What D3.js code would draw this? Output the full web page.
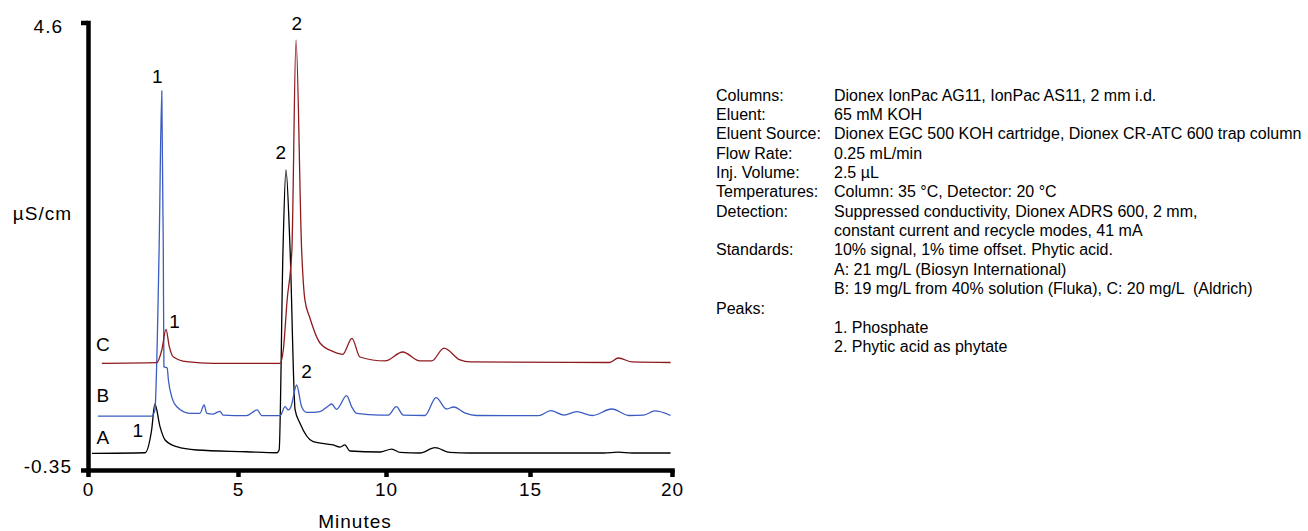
<!DOCTYPE html>
<html>
<head>
<meta charset="utf-8">
<script src="https://d3js.org/d3.v7.min.js"></script>
<style>
  body { margin: 0; background: #fff; }
  svg text { font-family: "Liberation Sans", Arial, Helvetica, sans-serif; fill: #000; }
  .big { font-size: 19px; letter-spacing: 1px; }
  .cond { font-size: 16px; white-space: pre; }
  .axis path, .axis line { stroke: #000; stroke-width: 4.5px; }
  .axis .domain { stroke-linecap: square; }
</style>
</head>
<body>
<svg id="chart" width="1308" height="531"></svg>
<script>
// axis ticks
const minuteTicks = [0, 5, 10, 15, 20];
const signalTicks = [-0.35, 4.6];

// chromatograms, [minutes, µS/cm]
const traceA = [[0.13,-0.165],[1.9,-0.159],[2.12,0.092],[2.23,0.38],[2.4,0.129],[2.57,-0.018],[2.96,-0.092],
  [3.62,-0.129],[5.29,-0.148],[6.31,-0.159],[6.39,-0.129],[6.52,2.084],[6.62,2.969],[6.76,2.084],[6.93,0.314],
  [7.09,0.17],[7.54,-0.037],[8.21,-0.073],[8.45,-0.096],[8.61,-0.073],[8.78,-0.14],[9.8,-0.151],[10.2,-0.118],
  [10.49,-0.156],[11.18,-0.162],[11.7,-0.103],[12.22,-0.156],[12.92,-0.162],[17.6,-0.162],[18.1,-0.152],
  [18.6,-0.162],[19.95,-0.162]];

const traceB = [[0.33,0.247],[2.12,0.247],[2.23,0.314],[2.37,2.084],[2.46,3.843],[2.51,2.084],[2.53,0.793],
  [2.64,0.778],[2.68,0.646],[2.79,0.461],[2.96,0.35],[3.4,0.277],[3.73,0.277],[3.87,0.369],[3.96,0.277],
  [4.17,0.269],[4.4,0.299],[4.5,0.258],[5.29,0.251],[5.65,0.314],[5.8,0.251],[6.42,0.251],[6.59,0.35],
  [6.7,0.314],[6.79,0.35],[6.98,0.59],[7.15,0.35],[7.32,0.288],[7.54,0.288],[7.77,0.295],[8.05,0.358],
  [8.16,0.38],[8.33,0.321],[8.67,0.472],[8.84,0.35],[9.01,0.277],[9.8,0.258],[10.08,0.258],[10.36,0.35],
  [10.6,0.258],[11.35,0.253],[11.74,0.45],[12.1,0.325],[12.35,0.347],[12.75,0.28],[13.14,0.253],[15.3,0.251],
  [15.73,0.306],[16.2,0.258],[16.64,0.295],[17.2,0.253],[17.88,0.325],[18.5,0.253],[19.0,0.258],[19.4,0.303],
  [19.95,0.253]];

const traceC = [[0.46,0.83],[2.29,0.837],[2.46,0.977],[2.6,1.206],[2.71,1.014],[2.84,0.903],[3.29,0.848],
  [4.17,0.83],[6.42,0.83],[6.53,0.977],[6.66,1.531],[6.82,2.084],[6.96,4.407],[7.15,2.084],[7.26,1.531],
  [7.43,1.331],[7.77,1.055],[8.22,0.96],[8.54,0.93],[8.85,1.107],[9.12,0.9],[9.97,0.856],[10.58,0.955],
  [11.18,0.856],[11.59,0.856],[12.01,0.999],[12.57,0.867],[12.92,0.845],[17.8,0.839],[18.11,0.889],
  [18.6,0.845],[19.95,0.839]];

// peak numbers and trace letters, [text, minutes, µS/cm]
const peakLabels = [['1',2.33,4.008],['2',7.0,4.595],['2',6.46,3.168],['1',2.9,1.29],['2',7.33,0.737],['1',1.68,0.092]];
const traceLabels = [['C',0.51,1.044],['B',0.51,0.472],['A',0.51,0.007]];

// conditions
const condNames = ['Columns:','Eluent:','Eluent Source:','Flow Rate:','Inj. Volume:','Temperatures:','Detection:','',
  'Standards:','','','Peaks:','',''];
const condValues = ['Dionex IonPac AG11, IonPac AS11, 2 mm i.d.','65 mM KOH',
  'Dionex EGC 500 KOH cartridge, Dionex CR-ATC 600 trap column','0.25 mL/min','2.5 µL',
  'Column: 35 °C, Detector: 20 °C','Suppressed conductivity, Dionex ADRS 600, 2 mm,',
  'constant current and recycle modes, 41 mA','10% signal, 1% time offset. Phytic acid.',
  'A: 21 mg/L (Biosyn International)','B: 19 mg/L from 40% solution (Fluka), C: 20 mg/L  (Aldrich)','',
  '1. Phosphate','2. Phytic acid as phytate'];

const margin = {top: 22.5, left: 88};
const width = 584, height = 447.5;

const svg = d3.select('#chart');
const g = svg.append('g').attr('transform', 'translate(' + margin.left + ',' + margin.top + ')');

// the x axis in the original is slightly uneven
const x = d3.scaleLinear().domain(minuteTicks).range([0, 150, 298, 442, 584]);
const y = d3.scaleLinear().domain([-0.35, 4.6]).range([height, 0]);

const line = d3.line().x(d => x(d[0])).y(d => y(d[1])).curve(d3.curveMonotoneX);

g.append('path').datum(traceA).attr('d', line).attr('fill', 'none').attr('stroke', '#000').attr('stroke-width', 1.3);
g.append('path').datum(traceB).attr('d', line).attr('fill', 'none').attr('stroke', '#3b5cc0').attr('stroke-width', 1.3);
g.append('path').datum(traceC).attr('d', line).attr('fill', 'none').attr('stroke', '#8e1a1e').attr('stroke-width', 1.3);

// axes
const xAxis = g.append('g').attr('class', 'axis').attr('transform', 'translate(0,' + height + ')')
  .call(d3.axisBottom(x).tickValues(minuteTicks).tickSize(7).tickSizeOuter(0).tickPadding(6));
const yAxis = g.append('g').attr('class', 'axis')
  .call(d3.axisLeft(y).tickValues(signalTicks).tickSize(7).tickSizeOuter(0).tickFormat(d => String(d)));

[xAxis, yAxis].forEach(a => {
  a.attr('font-size', null).attr('font-family', null);
  a.selectAll('.tick text').attr('class', 'big');
});
yAxis.selectAll('.tick text')
  .attr('x', d => d > 0 ? -25 : -16)
  .attr('y', d => d > 0 ? 3.5 : -4);

svg.append('text').attr('class', 'big').attr('x', 355).attr('y', 528).attr('text-anchor', 'middle').text('Minutes');
svg.append('text').attr('class', 'big').attr('x', 72).attr('y', 220).attr('text-anchor', 'end').text('µS/cm');

g.selectAll('.peak').data(peakLabels.concat(traceLabels)).enter().append('text')
  .attr('class', 'big')
  .attr('x', d => x(d[1]))
  .attr('y', d => y(d[2]))
  .attr('dy', '0.35em')
  .attr('text-anchor', 'middle')
  .text(d => d[0]);

// conditions block
const cond = svg.append('g').attr('transform', 'translate(716,95)');
cond.selectAll('.name').data(condNames).enter().append('text')
  .attr('class', 'cond').attr('x', 0).attr('y', (d, i) => i * 19.36).attr('dy', '0.35em').text(d => d);
cond.selectAll('.val').data(condValues).enter().append('text')
  .attr('class', 'cond').attr('x', 118).attr('y', (d, i) => i * 19.36).attr('dy', '0.35em').text(d => d);
</script>
</body>
</html>
